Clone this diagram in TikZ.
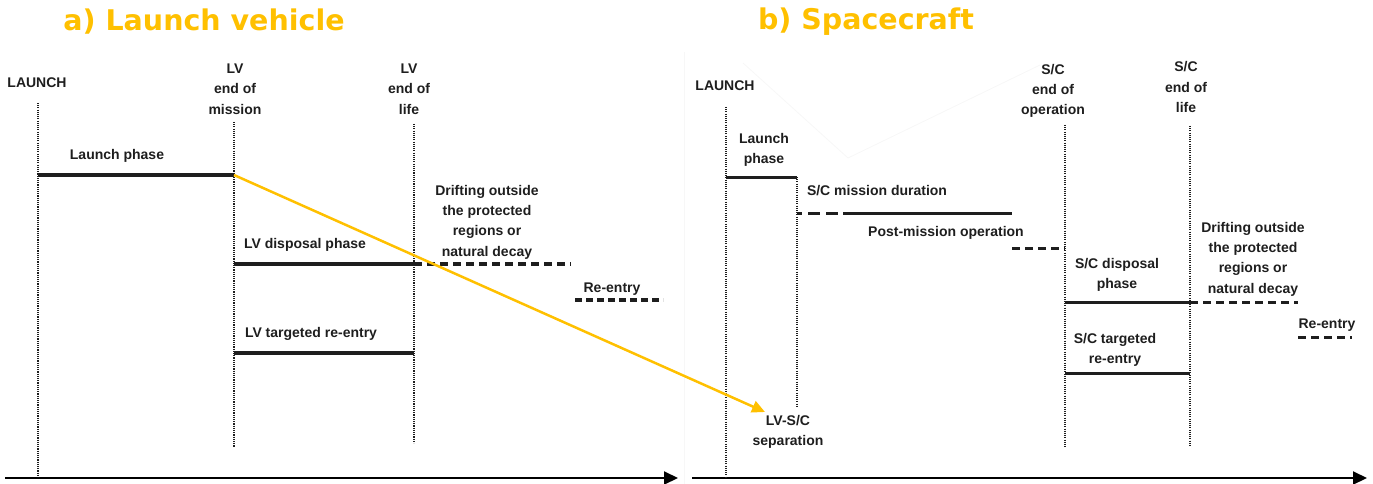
\documentclass[tikz,border=0pt]{standalone}
\usepackage{fontspec}
\setmainfont{Liberation Sans}
\newfontfamily\titlefont{DejaVu Sans}
\usetikzlibrary{arrows.meta}
\definecolor{gold}{RGB}{255,192,0}
\definecolor{ink}{RGB}{30,30,30}
\begin{document}
\begin{tikzpicture}[x=1pt,y=-1pt,
  lbl/.style={font=\bfseries\fontsize{14}{20.3}\selectfont, align=center, inner sep=0pt, text=ink},
  ttl/.style={font=\titlefont\bfseries\fontsize{28.5}{30}\selectfont, text=gold, inner sep=0pt},
  vdota/.style={draw=ink, line width=1.7pt, dash pattern=on 1.1pt off 1.1pt},
  vdotb/.style={draw=ink, line width=1.2pt, dash pattern=on 1pt off 1.2pt},
  bara/.style={draw=ink, line width=4pt},
  dasha/.style={draw=ink, line width=4pt, dash pattern=on 8pt off 5pt},
  barb/.style={draw=ink, line width=3pt},
  dashb/.style={draw=ink, line width=3pt, dash pattern=on 8pt off 5pt},
  axis/.style={draw=black, line width=2pt, -{Triangle[length=14pt,width=13pt]}},
  faint/.style={draw=black!3, line width=0.8pt}
]
\useasboundingbox (0,0) rectangle (1373,484);

% faint artefacts
\coordinate (f1) at (743,63); \coordinate (f2) at (848,158); \coordinate (f3) at (1040,65);
\draw[faint] (f1) -- (f2) -- (f3);
\coordinate (fb1) at (684,52); \coordinate (fb2) at (684,484);
\draw[faint] (fb1) -- (fb2);

% titles
\node[ttl] (ta) at (204,22) {a) Launch vehicle};
\node[ttl] (tb) at (866,22) {b) Spacecraft};

% ---------- panel a ----------
\coordinate (axa0) at (5,478); \coordinate (axa1) at (678,478);
\draw[axis] (axa0) -- (axa1);

\node[lbl] (launchA) at (37,83) {LAUNCH};
\node[lbl] (eomA) at (235,89) {LV\\end of\\mission};
\node[lbl] (eolA) at (409,89) {LV\\end of\\life};

\coordinate (vA0) at (38,103);  \coordinate (vA1) at (38,477);
\coordinate (vB0) at (234,122); \coordinate (vB1) at (234,447);
\coordinate (vC0) at (414,124); \coordinate (vC1) at (414,443);
\draw[vdota] (vA0) -- (vA1);
\draw[vdota] (vB0) -- (vB1);
\draw[vdota] (vC0) -- (vC1);

\node[lbl] (lpA) at (117,156) {Launch phase};
\coordinate (lpA0) at (38,175); \coordinate (lpA1) at (234,175);
\draw[bara] (lpA0) -- (lpA1);

\node[lbl] (dispA) at (305,245) {LV disposal phase};
\coordinate (dA0) at (234,264); \coordinate (dA1) at (414,264); \coordinate (dA2) at (571,264);
\draw[bara] (dA0) -- (dA1);
\draw[dasha] (dA1) -- (dA2);

\node[lbl] (driftA) at (487,222) {Drifting outside\\the protected\\regions or\\natural decay};

\node[lbl] (reA) at (612,289) {Re-entry};
\coordinate (rA0) at (575,300); \coordinate (rA1) at (663,300);
\draw[dasha, dash pattern=on 7pt off 4pt] (rA0) -- (rA1);

\node[lbl] (treA) at (311,334) {LV targeted re-entry};
\coordinate (tA0) at (234,353); \coordinate (tA1) at (414,353);
\draw[bara] (tA0) -- (tA1);

% ---------- panel b ----------
\coordinate (axb0) at (692,478); \coordinate (axb1) at (1367,478);
\draw[axis] (axb0) -- (axb1);

\node[lbl] (launchB) at (725,86) {LAUNCH};
\node[lbl] (eoopB) at (1053,91) {S/C\\end of\\operation};
\node[lbl] (eolB) at (1186,87) {S/C\\end of\\life};

\coordinate (vD0) at (726,107);  \coordinate (vD1) at (726,477);
\coordinate (vE0) at (797,177);  \coordinate (vE1) at (797,408);
\coordinate (vF0) at (1065,125); \coordinate (vF1) at (1065,448);
\coordinate (vG0) at (1190,126); \coordinate (vG1) at (1190,447);
\draw[vdotb] (vD0) -- (vD1);
\draw[vdotb] (vE0) -- (vE1);
\draw[vdotb] (vF0) -- (vF1);
\draw[vdotb] (vG0) -- (vG1);

\node[lbl] (lpB) at (764,150) {Launch\\phase};
\coordinate (lpB0) at (726,177); \coordinate (lpB1) at (797,177);
\draw[barb] (lpB0) -- (lpB1);

\node[lbl] (mdB) at (877,191) {S/C mission duration};
\coordinate (mB0) at (797,213); \coordinate (mB1) at (839,213);
\coordinate (mB2) at (843,213); \coordinate (mB3) at (1012,213);
\draw[dashb, dash pattern=on 5pt off 6pt on 12pt off 6pt on 12pt off 6pt] (mB0) -- (mB1);
\draw[barb] (mB2) -- (mB3);

\node[lbl] (pmB) at (946,233) {Post-mission operation};
\coordinate (pB0) at (1012,248); \coordinate (pB1) at (1065,248);
\draw[dashb] (pB0) -- (pB1);

\node[lbl] (dispB) at (1117,275) {S/C disposal\\phase};
\coordinate (dB0) at (1065,302); \coordinate (dB1) at (1190,302); \coordinate (dB2) at (1298,302);
\draw[barb] (dB0) -- (dB1);
\draw[dashb] (dB1) -- (dB2);

\node[lbl] (driftB) at (1253,259) {Drifting outside\\the protected\\regions or\\natural decay};

\node[lbl] (reB) at (1327,325) {Re-entry};
\coordinate (rB0) at (1298,337); \coordinate (rB1) at (1352,337);
\draw[dashb] (rB0) -- (rB1);

\node[lbl] (treB) at (1115,350) {S/C targeted\\re-entry};
\coordinate (tB0) at (1065,373); \coordinate (tB1) at (1190,373);
\draw[barb] (tB0) -- (tB1);

\node[lbl] (sepB) at (788,432) {LV-S/C\\separation};

% orange connector
\coordinate (sepTip) at (765,412);
\draw[draw=gold, line width=2.5pt, -{Triangle[length=13pt,width=12pt]}] (lpA1) -- (sepTip);

\end{tikzpicture}
\end{document}
